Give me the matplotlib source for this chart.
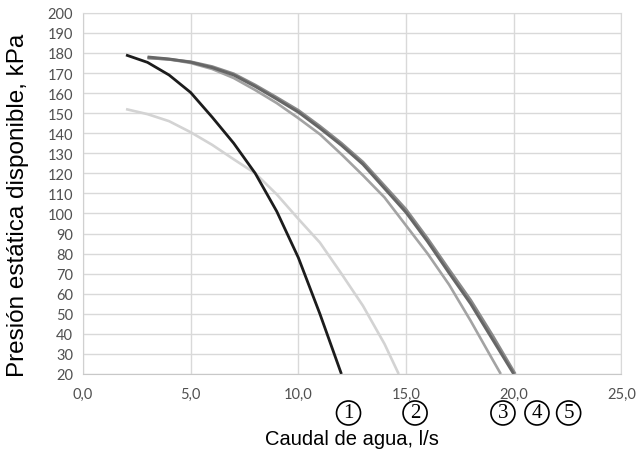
import matplotlib
matplotlib.use('Agg')
import matplotlib.pyplot as plt
from matplotlib.ticker import MultipleLocator, FuncFormatter

# ====================== DATI ======================
# curva 1 (nera)
q1 = [2, 3, 4, 5, 6, 7, 8, 9, 10, 11, 12]
p1 = [179, 175.3, 169, 160.3, 148, 135, 120, 101, 78, 50, 20]

# curva 2 (grigio chiaro)
q2 = [2, 3, 4, 5, 6, 7, 8, 9, 10, 11, 12, 13, 14, 14.66]
p2 = [152, 149.5, 146, 140.5, 134.2, 127, 120, 109.5, 97.3, 85.5, 70, 54, 35, 20]

# curva 3 (grigio medio)
q3 = [3, 4, 5, 6, 7, 8, 9, 10, 11, 12, 13, 14, 15, 16, 17, 18, 19, 19.4]
p3 = [177.5, 176.8, 175, 172, 167.5, 161.5, 155, 147.5, 139.5, 129.5, 119,
      108, 94, 80, 64.5, 46.5, 27.5, 20]

# curva 4 (grigio scuro)
q4 = [3, 4, 5, 6, 7, 8, 9, 10, 11, 12, 13, 14, 15, 16, 17, 18, 19, 20]
p4 = [178, 177, 175.4, 172.7, 169, 163.3, 157, 150.5, 142.5, 134, 124.5,
      112.5, 100.5, 86, 70.3, 55, 37.5, 20]

# curva 5 (grigio scuro, quasi sovrapposta)
q5 = [3, 4, 5, 6, 7, 8, 9, 10, 11, 12, 13, 14, 15, 16, 17, 18, 19, 20.07]
p5 = [177.6, 176.8, 175.6, 173.2, 169.6, 164, 157.8, 151.4, 143.5, 135,
      125.6, 113.8, 102, 87.5, 72, 56.8, 39.5, 20]

curve_labels = ['1', '2', '3', '4', '5']
label_q = [12.33, 15.42, 19.5, 21.08, 22.55]

# ====================== GRAFICO ======================
fig = plt.figure(figsize=(6.38, 4.52), dpi=100)
ax = fig.add_axes([0.13, 0.1704, 0.844, 0.799])

ax.plot(q2, p2, color='#d3d3d3', linewidth=1.9, solid_capstyle='butt')
ax.plot(q3, p3, color='#a3a3a3', linewidth=1.9, solid_capstyle='butt')
ax.plot(q5, p5, color='#8a8a8a', linewidth=2.1, solid_capstyle='butt')
ax.plot(q4, p4, color='#666666', linewidth=2.1, solid_capstyle='butt')
ax.plot(q1, p1, color='#1c1c1c', linewidth=2.0, solid_capstyle='butt')

ax.set_xlim(0, 25)
ax.set_ylim(20, 200)
ax.xaxis.set_major_locator(MultipleLocator(5))
ax.yaxis.set_major_locator(MultipleLocator(10))
ax.xaxis.set_major_formatter(FuncFormatter(lambda v, p: f'{v:.1f}'.replace('.', ',')))
ax.grid(True, color='#d9d9d9', linewidth=1.0)
ax.set_axisbelow(True)
for s in ax.spines.values():
    s.set_color('#d9d9d9')
ax.spines['bottom'].set_color('#c8c8c8')
ax.spines['left'].set_color('#d0d0d0')
ax.tick_params(length=0, labelsize=10.5, colors='#505050')
ax.tick_params(axis='y', pad=7)
ax.tick_params(axis='x', pad=9)
for t in ax.get_xticklabels() + ax.get_yticklabels():
    t.set_family('Lato')

# etichette curve cerchiate
for q, lab in zip(label_q, curve_labels):
    ax.text(q, -0.108, lab, transform=ax.get_xaxis_transform(), ha='center', va='center',
            fontsize=15, family='Liberation Serif', clip_on=False,
            bbox=dict(boxstyle='circle,pad=0.12', fc='white', ec='black', lw=1.2))

fig.text(352 / 638, 1 - 440 / 452, 'Caudal de agua, l/s', ha='center', va='center',
         fontsize=14.5, family='Liberation Sans')
fig.text(18 / 638, 1 - 205 / 452, 'Presión estática disponible, kPa', ha='center',
         va='center', rotation=90, fontsize=17.5, family='Liberation Sans')

fig.savefig('out.png', dpi=100)
